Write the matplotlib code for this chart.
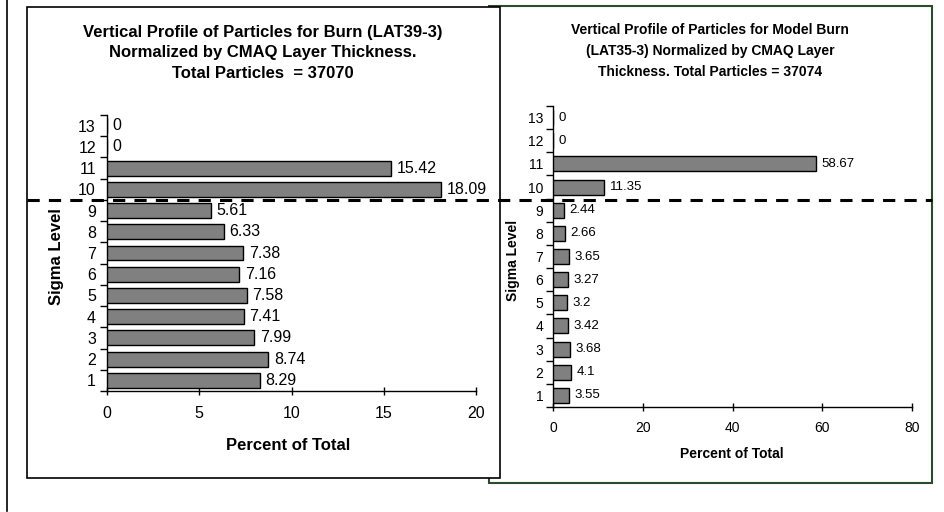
import matplotlib.pyplot as plt
from matplotlib.patches import Rectangle
from matplotlib.lines import Line2D
import numpy as np

plt.rcParams['font.family'] = ['Liberation Sans', 'DejaVu Sans']

# Sigma levels and percent of particles per level
levels = list(range(1, 14))
burn_pct = [8.29, 8.74, 7.99, 7.41, 7.58, 7.16, 7.38, 6.33, 5.61, 18.09, 15.42, 0, 0]
model_pct = [3.55, 4.1, 3.68, 3.42, 3.2, 3.27, 3.65, 2.66, 2.44, 11.35, 58.67, 0, 0]

burn_title = ('Vertical Profile of Particles for Burn (LAT39-3)\n'
              'Normalized by CMAQ Layer Thickness.\n'
              'Total Particles  = 37070')
model_title = ('Vertical Profile of Particles for Model Burn\n'
               '(LAT35-3) Normalized by CMAQ Layer\n'
               'Thickness. Total Particles = 37074')

burn_xticks = [0, 5, 10, 15, 20]
model_xticks = [0, 20, 40, 60, 80]

W, H = 944, 512
fig = plt.figure(figsize=(W / 100, H / 100), dpi=100)


def fx(px):
    return px / W


def fy(py):
    return 1 - py / H


# page edge line and the two chart frames
fig.add_artist(Line2D([fx(7), fx(7)], [fy(0), fy(511)], color='black', lw=1.2))
fig.patches.append(Rectangle((fx(489), fy(483)), fx(932) - fx(489), fy(6) - fy(483),
                             transform=fig.transFigure, facecolor='white',
                             edgecolor='#2c4a2c', lw=1.5, zorder=-2))
fig.patches.append(Rectangle((fx(27), fy(478)), fx(500) - fx(27), fy(7) - fy(478),
                             transform=fig.transFigure, facecolor='white',
                             edgecolor='black', lw=1.2, zorder=-1))


def draw_panel(ax, values, xticks, height, fs, val_fs, pad_y, pad_x):
    ax.set_facecolor('none')
    ax.barh(levels, values, height=height, color='#808080', edgecolor='black', lw=1.0,
            zorder=3)
    for lev, v in zip(levels, values):
        ax.annotate(f'{v:g}', (v, lev), xytext=(4, 0), textcoords='offset points',
                    va='center', ha='left', fontsize=val_fs)
    ax.set_xlim(0, xticks[-1])
    ax.set_ylim(0.5, 13.5)
    ax.set_xticks(xticks)
    ax.set_xticklabels([str(t) for t in xticks], fontsize=fs)
    ax.set_yticks(levels)
    ax.set_yticklabels([str(l) for l in levels], fontsize=fs)
    ax.set_yticks(np.arange(0.5, 14, 1), minor=True)
    ax.tick_params(axis='y', which='major', length=0, pad=pad_y)
    ax.tick_params(axis='y', which='minor', length=5, direction='out', width=1)
    ax.tick_params(axis='x', length=6, direction='inout', width=1, pad=pad_x)
    for side in ['top', 'right']:
        ax.spines[side].set_visible(False)
    for side in ['left', 'bottom']:
        ax.spines[side].set_linewidth(1.0)


ax1 = fig.add_axes([fx(107), fy(391), fx(476) - fx(107), fy(115) - fy(391)])
draw_panel(ax1, burn_pct, burn_xticks, 0.7, 11.5, 11.5, 8, 8)

ax2 = fig.add_axes([fx(553), fy(407), fx(912) - fx(553), fy(106) - fy(407)])
draw_panel(ax2, model_pct, model_xticks, 0.65, 10, 9.5, 7, 7)

# titles and axis labels
fig.text(fx(263), fy(53), burn_title, ha='center', va='center', fontsize=12,
         fontweight='bold', linespacing=1.5)
fig.text(fx(710), fy(51), model_title, ha='center', va='center', fontsize=10,
         fontweight='bold', linespacing=1.6)
fig.text(fx(288), fy(446), 'Percent of Total', ha='center', va='center',
         fontsize=12, fontweight='bold')
fig.text(fx(56), fy(257), 'Sigma Level', ha='center', va='center', rotation=90,
         fontsize=12, fontweight='bold')
fig.text(fx(732), fy(454), 'Percent of Total', ha='center', va='center',
         fontsize=10, fontweight='bold')
fig.text(fx(513), fy(260), 'Sigma Level', ha='center', va='center', rotation=90,
         fontsize=10, fontweight='bold')

# dashed boundary between sigma levels 9 and 10 across both charts
fig.canvas.draw()
y_disp = ax1.transData.transform((0, 9.5))[1]
y_fig = fig.transFigure.inverted().transform((0, y_disp))[1]
fig.add_artist(Line2D([fx(27), fx(932)], [y_fig, y_fig], color='black', lw=2.2,
                      dashes=(4, 3), zorder=10))

fig.savefig('out.png', dpi=100)
